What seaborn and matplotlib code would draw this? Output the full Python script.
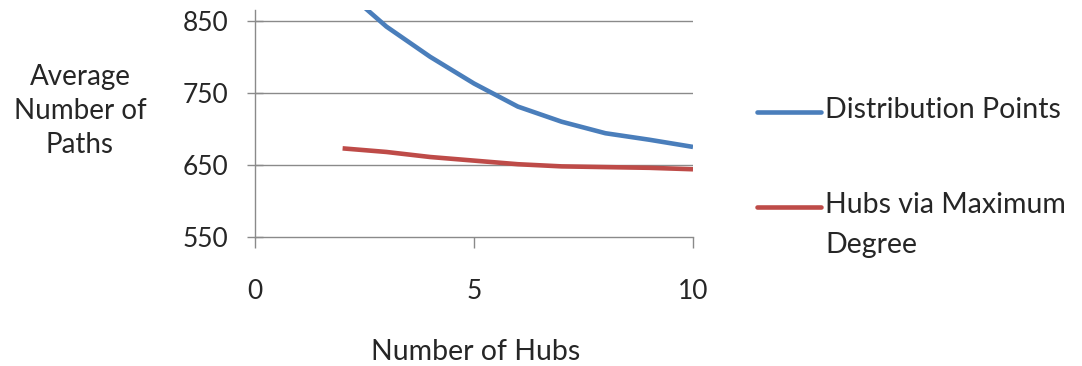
import matplotlib
matplotlib.use("Agg")
import matplotlib.pyplot as plt
from matplotlib.lines import Line2D
import seaborn as sns
import pandas as pd

# Average number of paths vs. number of hubs
hubs = [2, 3, 4, 5, 6, 7, 8, 9, 10]
distribution_points = [895, 842, 800, 763, 731, 710, 694, 685, 675]
max_degree_hubs = [673, 668, 661, 656, 651, 648, 647, 646, 644]
series_names = ["Distribution Points", "Hubs via Maximum\nDegree"]
colors = ["#4A7EBB", "#BE4B48"]
x_ticks = [0, 5, 10]
y_ticks = [550, 650, 750, 850]

df = pd.DataFrame({
    "hubs": hubs * 2,
    "paths": distribution_points + max_degree_hubs,
    "series": [series_names[0]] * len(hubs) + [series_names[1]] * len(hubs),
})

sns.set_theme(style="white")
plt.rcParams["font.family"] = ["Lato", "DejaVu Sans"]
text_color = "#262626"

fig = plt.figure(figsize=(10.82, 3.66), dpi=100)
ax = fig.add_axes([255 / 1082, 1 - 237 / 366, (693 - 255) / 1082, (237 - 10) / 366])

sns.lineplot(data=df, x="hubs", y="paths", hue="series", palette=colors,
             linewidth=3.3, ax=ax, legend=False, sort=True)
for line in ax.lines:
    line.set_solid_joinstyle("round")
    line.set_solid_capstyle("butt")

ax.set_xlim(0, 10)
ax.set_ylim(550, 865)
ax.set_xticks(x_ticks)
ax.set_yticks(y_ticks)
ax.set_xlabel("")
ax.set_ylabel("")

# horizontal gridlines above the baseline
for y in y_ticks[1:]:
    ax.axhline(y, color="#8a8a8a", linewidth=1.0, zorder=0)

for side in ["top", "right"]:
    ax.spines[side].set_visible(False)
for side in ["left", "bottom"]:
    ax.spines[side].set_color("#8a8a8a")
    ax.spines[side].set_linewidth(1.0)

ax.tick_params(axis="y", direction="inout", length=12, width=1.0, color="#8a8a8a",
               pad=13, labelsize=19, labelcolor=text_color, left=True)
ax.tick_params(axis="x", direction="out", length=8, width=1.0, color="#8a8a8a",
               pad=22, labelsize=19, labelcolor=text_color, bottom=True)

# axis titles
fig.text(80 / 1082, 1 - 111 / 366, "Average\nNumber of\nPaths", ha="center", va="center",
         fontsize=20, color=text_color, linespacing=1.38)
fig.text(476 / 1082, 1 - 352 / 366, "Number of Hubs", ha="center", va="center",
         fontsize=20.5, color=text_color)

# legend
legend_rows = [112, 207]
for name, color, yy in zip(series_names, colors, legend_rows):
    fig.add_artist(Line2D([757 / 1082, 821 / 1082], [1 - yy / 366, 1 - yy / 366],
                          color=color, linewidth=3.3, transform=fig.transFigure))
    fig.text(825 / 1082, 1 - (yy - 15) / 366, name, ha="left", va="top",
             fontsize=20.5, color=text_color, linespacing=1.65)

fig.savefig("out.png", dpi=100)
